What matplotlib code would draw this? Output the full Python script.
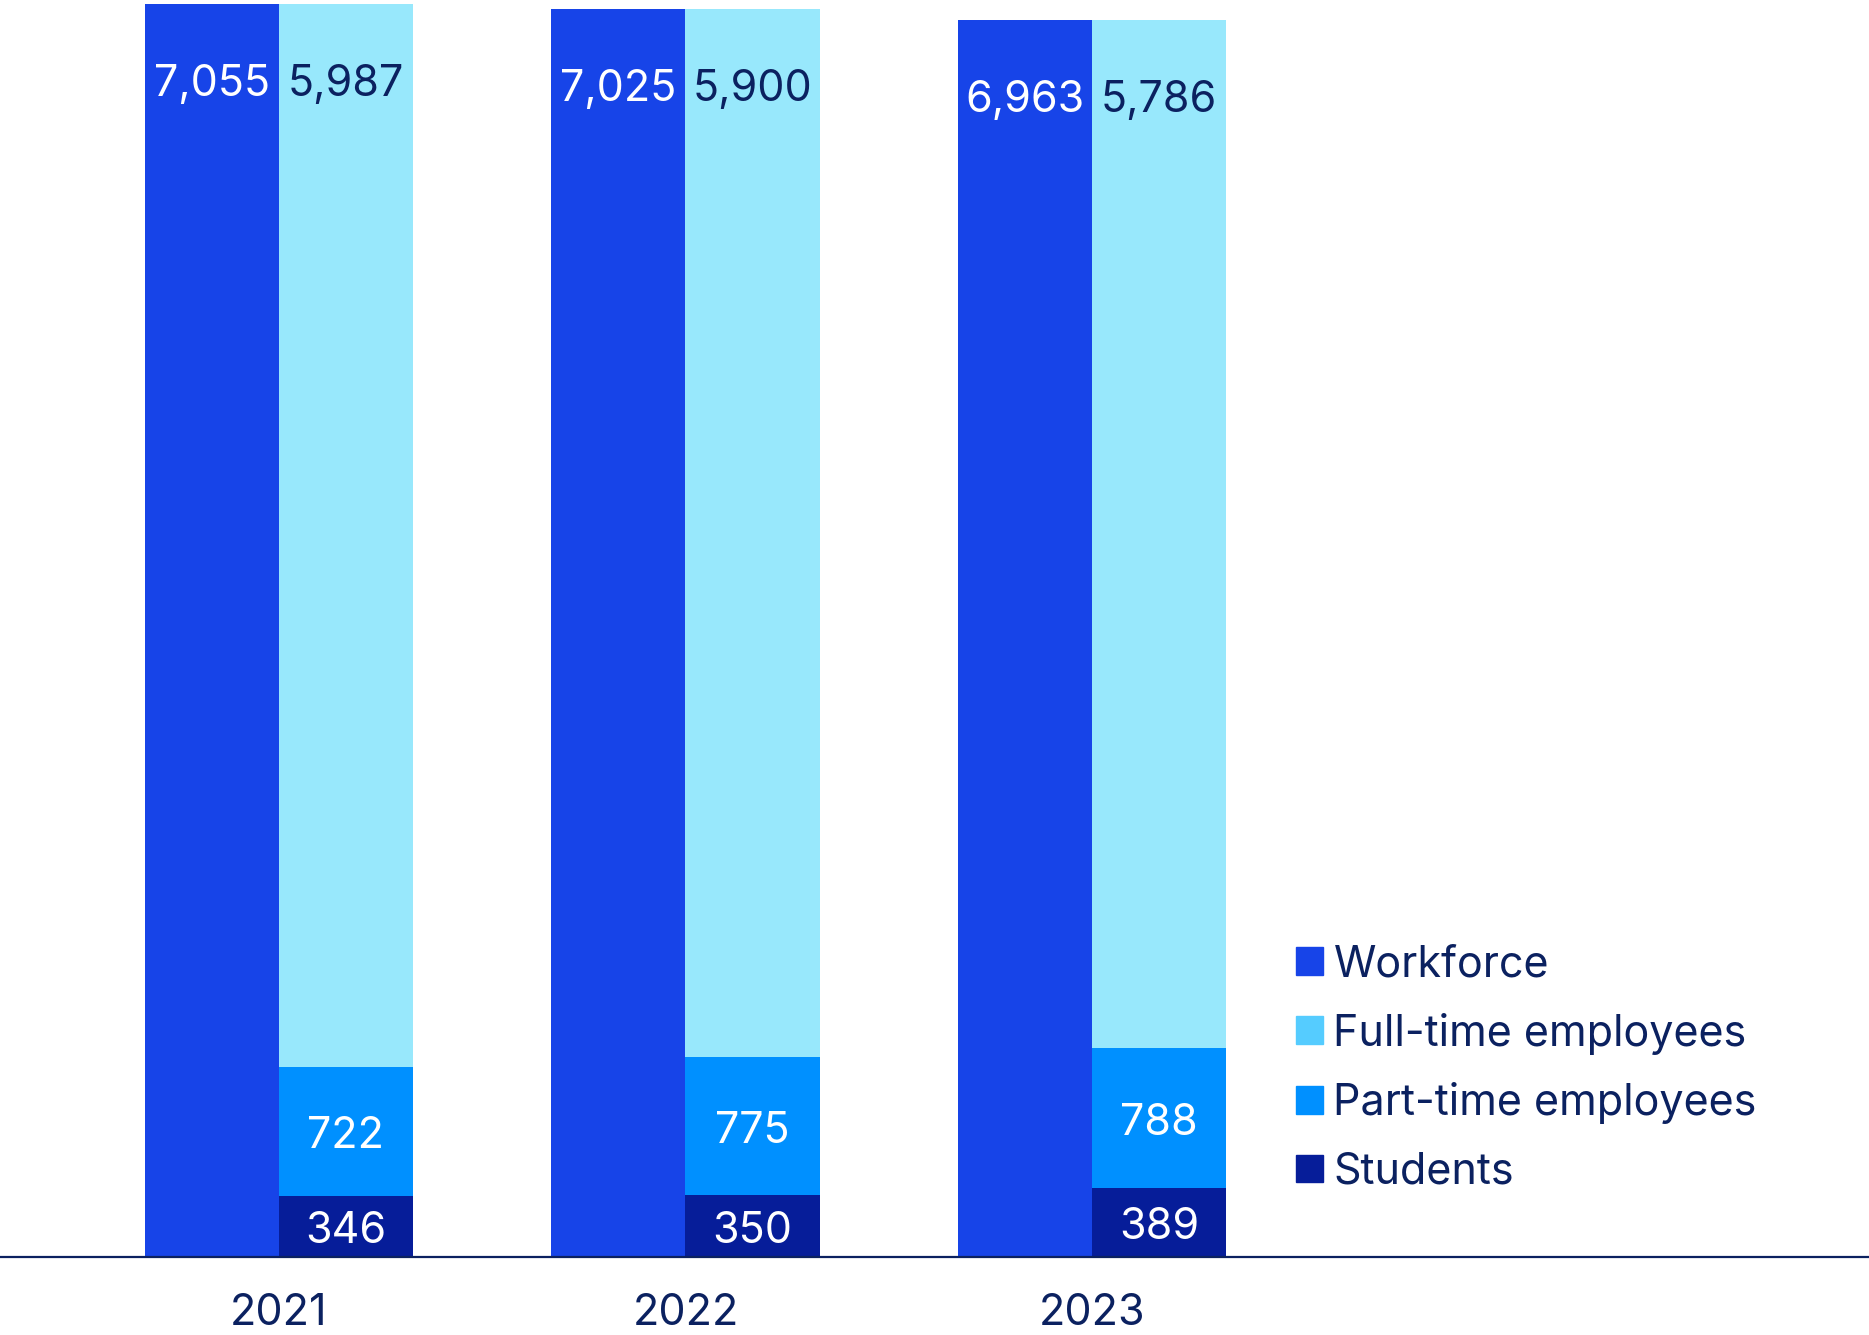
import numpy as np
import matplotlib.pyplot as plt
from matplotlib.patches import Patch

plt.rcParams['font.family'] = ['Inter', 'DejaVu Sans']

years = ["2021", "2022", "2023"]
workforce = [7055, 7025, 6963]
full_time = [5987, 5900, 5786]
part_time = [722, 775, 788]
students = [346, 350, 389]

c_work = "#1744E8"
c_full = "#98E8FC"
c_full_leg = "#55CCFF"
c_part = "#0090FF"
c_stud = "#061D99"
navy = "#0B2160"

fig = plt.figure(figsize=(18.69, 13.35), dpi=100)
ax = fig.add_axes([0, 0.0584, 1, 0.9416])

x = np.arange(len(years))
w = 0.33

ax.bar(x - w / 2, workforce, w, color=c_work)
ax.bar(x + w / 2, students, w, color=c_stud)
ax.bar(x + w / 2, part_time, w, bottom=students, color=c_part)
bottom_full = np.array(students) + np.array(part_time)
ax.bar(x + w / 2, full_time, w, bottom=bottom_full, color=c_full)

fs = 31
for i in range(len(years)):
    ax.text(x[i] - w / 2, workforce[i] - 450, f"{workforce[i]:,}", ha="center", va="center",
            color="white", fontsize=fs)
    ax.text(x[i] + w / 2, bottom_full[i] + full_time[i] - 450, f"{full_time[i]:,}", ha="center",
            va="center", color=navy, fontsize=fs)
    ax.text(x[i] + w / 2, students[i] + part_time[i] / 2 - 30, f"{part_time[i]:,}", ha="center",
            va="center", color="white", fontsize=fs)
    ax.text(x[i] + w / 2, students[i] / 2 - 30, f"{students[i]:,}", ha="center", va="center",
            color="white", fontsize=fs)

ax.set_xlim(-0.686, 3.911)
ax.set_ylim(0, 7078)
ax.set_xticks(x)
ax.set_xticklabels(years, fontsize=fs, color=navy)
ax.tick_params(axis="x", length=0, pad=26)
ax.set_yticks([])
for s in ["top", "right", "left"]:
    ax.spines[s].set_visible(False)
ax.spines["bottom"].set_color(navy)
ax.spines["bottom"].set_linewidth(1.6)

handles = [Patch(color=c_work), Patch(color=c_full_leg), Patch(color=c_part), Patch(color=c_stud)]
labels = ["Workforce", "Full-time employees", "Part-time employees", "Students"]
leg = ax.legend(handles, labels, loc="upper left", bbox_to_anchor=(1296 / 1869, 1 - 944 / 1257),
                frameon=False, fontsize=fs, handlelength=0.62, handleheight=0.62,
                handletextpad=0.25, labelspacing=0.64, borderpad=0, borderaxespad=0)
for t in leg.get_texts():
    t.set_color(navy)

plt.savefig("out.png", dpi=100)
plt.close()
